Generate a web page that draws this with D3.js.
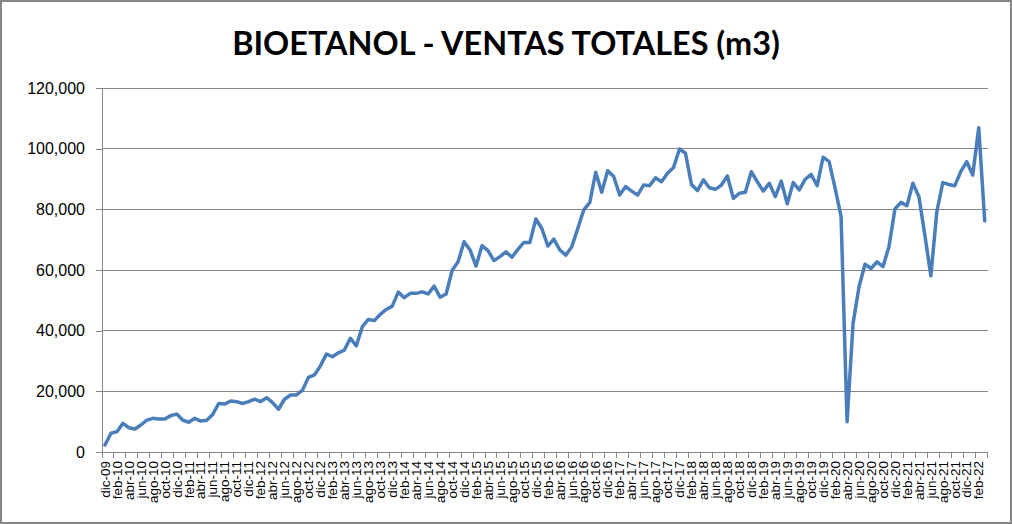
<!DOCTYPE html>
<html>
<head>
<meta charset="utf-8">
<script src="https://cdn.jsdelivr.net/npm/d3@7"></script>
<style>
  html, body { margin: 0; padding: 0; background: #fff; }
  svg { display: block; }
</style>
</head>
<body>
<svg id="chart" width="1012" height="524"></svg>
<script>
// ---- data ----
const title = "BIOETANOL - VENTAS TOTALES (m3)";
const monthNames = ["ene","feb","mar","abr","may","jun","jul","ago","sep","oct","nov","dic"];
const startYear = 2009, startMonth = 11; // dic-09
const values = [
  2300, 6200, 6700, 9450, 8000, 7600, 8900, 10500, 11100, 10900, 10900, 12000,
  12500, 10500, 9800, 11100, 10200, 10500, 12400, 16000, 15800, 16800, 16600, 16000,
  16600, 17400, 16600, 17900, 16300, 14100, 17400, 18800, 18800, 20400, 24600, 25400,
  28400, 32300, 31400, 32700, 33600, 37500, 35000, 41300, 43700, 43300, 45400, 47000,
  48100, 52700, 50900, 52300, 52300, 52800, 52100, 54700, 51000, 52100, 59800, 62700,
  69300, 66600, 61300, 68000, 66400, 63100, 64400, 66000, 64200, 66800, 69100, 69100,
  76800, 73700, 67900, 70200, 66600, 64900, 67700, 73700, 79800, 82200, 92200, 85600,
  92700, 90800, 84700, 87500, 86000, 84700, 88000, 87800, 90400, 89100, 91900, 93800,
  99900, 98500, 88200, 86200, 89700, 87100, 86600, 88000, 91000, 83600, 85300, 85600,
  92400, 89100, 86000, 88600, 84200, 89300, 81800, 88800, 86400, 89900, 91500, 87800,
  97200, 95700, 87000, 77600, 10000, 42400, 54500, 61900, 60500, 62700, 61100, 67700,
  80100, 82300, 81200, 88600, 84200, 71500, 58100, 79200, 88800, 88200, 87800, 92400,
  95700, 91300, 106900, 76200
];
const categories = values.map((d, i) => {
  const m = (startMonth + i) % 12;
  const y = startYear + Math.floor((startMonth + i) / 12);
  return monthNames[m] + "-" + String(y % 100).padStart(2, "0");
});
const yTicks = [0, 20000, 40000, 60000, 80000, 100000, 120000];

// ---- layout ----
const W = 1012, H = 524;
const plot = { left: 102, right: 987.7, top: 88, bottom: 452 };
const svg = d3.select("#chart");

svg.append("rect").attr("x", 1).attr("y", 1).attr("width", W - 2).attr("height", H - 2)
  .attr("fill", "#fff").attr("stroke", "#868686").attr("stroke-width", 2);

const x = d3.scaleBand().domain(categories).range([plot.left, plot.right]).paddingInner(0).paddingOuter(0);
const y = d3.scaleLinear().domain([0, 120000]).range([plot.bottom, plot.top]);

// gridlines
svg.append("g").selectAll("line").data(yTicks.filter(d => d > 0)).join("line")
  .attr("x1", plot.left).attr("x2", plot.right)
  .attr("y1", d => y(d)).attr("y2", d => y(d))
  .attr("stroke", "#868686").attr("stroke-width", 1).attr("shape-rendering", "crispEdges");

// y axis
const yAxis = d3.axisLeft(y).tickValues(yTicks).tickFormat(d3.format(",")).tickSize(6).tickPadding(11);
const gy = svg.append("g").attr("transform", `translate(${plot.left},0)`).call(yAxis);
gy.select(".domain").attr("stroke", "#868686").attr("shape-rendering", "crispEdges");
gy.selectAll(".tick line").attr("stroke", "#868686").attr("shape-rendering", "crispEdges");
gy.selectAll("text").attr("font-family", "'Liberation Sans', Arial, sans-serif")
  .attr("font-size", 16).attr("fill", "#000");

// x axis: labels every 2 categories at band centers, ticks at boundaries
const labelCats = categories.filter((d, i) => i % 2 === 0);
const xAxis = d3.axisBottom(x).tickValues(labelCats).tickSize(0).tickPadding(0);
const gx = svg.append("g").attr("transform", `translate(0,${plot.bottom})`).call(xAxis);
gx.select(".domain").remove();
gx.selectAll("text")
  .attr("font-family", "'Liberation Sans', Arial, sans-serif")
  .attr("font-size", 13.5).attr("fill", "#000")
  .attr("text-anchor", "end")
  .attr("transform", "translate(0,9) rotate(-90)")
  .attr("dx", 0).attr("dy", "0.35em").attr("x", 0).attr("y", 0);

const boundaries = categories.filter((d, i) => i % 2 === 0).map(c => x(c)).concat([plot.right]);
svg.append("g").selectAll("line").data(boundaries).join("line")
  .attr("x1", d => d).attr("x2", d => d)
  .attr("y1", plot.bottom).attr("y2", plot.bottom + 6)
  .attr("stroke", "#868686").attr("shape-rendering", "crispEdges");
svg.append("line").attr("x1", plot.left).attr("x2", plot.right)
  .attr("y1", plot.bottom).attr("y2", plot.bottom)
  .attr("stroke", "#868686").attr("shape-rendering", "crispEdges");

// line
const line = d3.line()
  .x((d, i) => x(categories[i]) + x.bandwidth() / 2)
  .y(d => y(d));
svg.append("path").datum(values)
  .attr("d", line)
  .attr("fill", "none")
  .attr("stroke", "#4a7ebb")
  .attr("stroke-width", 3.5)
  .attr("stroke-linejoin", "round")
  .attr("stroke-linecap", "round");

// title
svg.append("text").attr("x", 506).attr("y", 55)
  .attr("text-anchor", "middle")
  .attr("font-family", "Lato, 'Liberation Sans', Arial, sans-serif")
  .attr("font-weight", "bold").attr("font-size", 32.4)
  .attr("fill", "#000")
  .text(title);
</script>
</body>
</html>
